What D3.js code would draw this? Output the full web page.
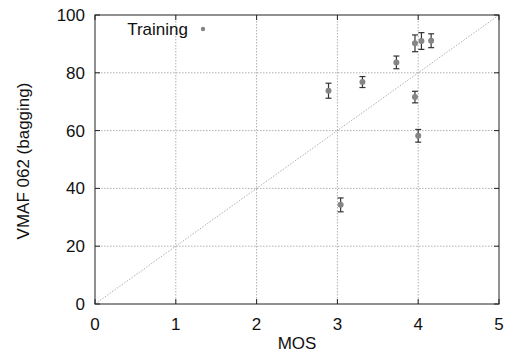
<!DOCTYPE html>
<html lang="en">
<head>
<meta charset="utf-8">
<script src="https://d3js.org/d3.v7.min.js"></script>
<style>
  body { margin: 0; background: white; }
  svg { font-family: 'Liberation Sans', Arial, sans-serif; }
  .grid line { stroke: #b0b0b0; stroke-width: 1; stroke-dasharray: 1.5,1.5; }
  .diag { stroke: #b0b0b0; stroke-width: 1; stroke-dasharray: 1.5,1.5; fill: none; }
  .lbl { font-size: 17px; fill: #111; }
</style>
</head>
<body>
<svg width="506" height="357"></svg>
<script>
// values
var mos     = [2.89, 3.31, 3.73, 3.96, 4.04, 4.16, 3.96, 4.00, 3.04];
var vmaf    = [73.8, 76.8, 83.6, 90.2, 91.0, 91.1, 71.6, 58.2, 34.3];
var vmafErr = [2.6, 1.9, 2.2, 2.9, 2.9, 2.4, 2.0, 2.2, 2.4];
var xTicks = [0, 1, 2, 3, 4, 5];
var yTicks = [0, 20, 40, 60, 80, 100];

var svg = d3.select("svg");
var pl = 95, pr = 499, pt = 15, pb = 304;

var x = d3.scaleLinear().domain([0, 5]).range([pl, pr]);
var y = d3.scaleLinear().domain([0, 100]).range([pb, pt]);

// grid
var grid = svg.append("g").attr("class", "grid");
grid.selectAll("line.v").data(xTicks.slice(1, -1)).enter().append("line")
    .attr("x1", d => x(d)).attr("x2", d => x(d)).attr("y1", pt).attr("y2", pb);
grid.selectAll("line.h").data(yTicks.slice(1, -1)).enter().append("line")
    .attr("x1", pl).attr("x2", pr).attr("y1", d => y(d)).attr("y2", d => y(d));

// y = 20x reference
svg.append("line").attr("class", "diag")
    .attr("x1", x(0)).attr("y1", y(0)).attr("x2", x(5)).attr("y2", y(100));

// frame
svg.append("rect").attr("x", pl).attr("y", pt)
    .attr("width", pr - pl).attr("height", pb - pt)
    .attr("fill", "none").attr("stroke", "#222").attr("stroke-width", 1);

// inward ticks on all four sides
var tk = svg.append("g").attr("stroke", "#222");
xTicks.forEach(function(t) {
  tk.append("line").attr("x1", x(t)).attr("x2", x(t)).attr("y1", pb).attr("y2", pb - 5);
  tk.append("line").attr("x1", x(t)).attr("x2", x(t)).attr("y1", pt).attr("y2", pt + 5);
});
yTicks.forEach(function(t) {
  tk.append("line").attr("x1", pl).attr("x2", pl + 5).attr("y1", y(t)).attr("y2", y(t));
  tk.append("line").attr("x1", pr).attr("x2", pr - 5).attr("y1", y(t)).attr("y2", y(t));
});

svg.selectAll("text.xt").data(xTicks).enter().append("text")
    .attr("class", "lbl").attr("x", d => x(d)).attr("y", pb + 26)
    .attr("text-anchor", "middle").text(d => d);
svg.selectAll("text.yt").data(yTicks).enter().append("text")
    .attr("class", "lbl").attr("x", pl - 10).attr("y", d => y(d) + 6)
    .attr("text-anchor", "end").text(d => d);

svg.append("text").attr("class", "lbl")
    .attr("x", (pl + pr) / 2).attr("y", 349).attr("text-anchor", "middle").text("MOS");
svg.append("text").attr("class", "lbl")
    .attr("transform", "translate(29,161) rotate(-90)")
    .attr("text-anchor", "middle").text("VMAF 062 (bagging)");

// points with error bars
var pts = d3.range(mos.length).map(i => ({ x: mos[i], y: vmaf[i], e: vmafErr[i] }));
var g = svg.append("g").selectAll("g").data(pts).enter().append("g");
g.append("line").attr("stroke", "#333").attr("stroke-width", 1.2)
    .attr("x1", d => x(d.x)).attr("x2", d => x(d.x))
    .attr("y1", d => y(d.y - d.e)).attr("y2", d => y(d.y + d.e));
[-1, 1].forEach(function(s) {
  g.append("line").attr("stroke", "#333").attr("stroke-width", 1.2)
      .attr("x1", d => x(d.x) - 3).attr("x2", d => x(d.x) + 3)
      .attr("y1", d => y(d.y + s * d.e)).attr("y2", d => y(d.y + s * d.e));
});
g.append("circle").attr("cx", d => x(d.x)).attr("cy", d => y(d.y))
    .attr("r", 3).attr("fill", "#858585");

// legend
svg.append("text").attr("class", "lbl")
    .attr("x", 188).attr("y", 35).attr("text-anchor", "end").text("Training");
svg.append("circle").attr("cx", 203).attr("cy", 29).attr("r", 2.2).attr("fill", "#858585");
</script>
</body>
</html>
